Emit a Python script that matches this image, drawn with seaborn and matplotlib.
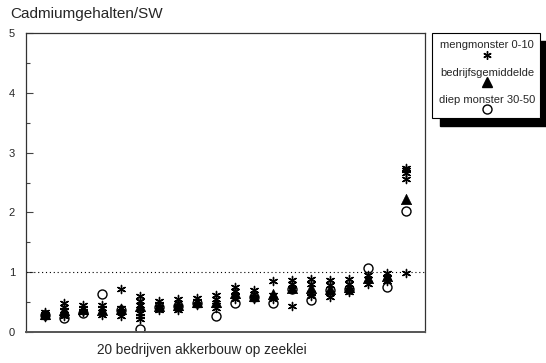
import matplotlib
matplotlib.use("Agg")
import matplotlib.pyplot as plt
import seaborn as sns
import pandas as pd
from matplotlib.patches import Rectangle
from matplotlib.lines import Line2D

# ---- data ----
bedrijf = list(range(1, 21))
mengmonster = [
    [0.25, 0.28, 0.30, 0.33, 0.27],
    [0.49, 0.42, 0.36, 0.30, 0.26],
    [0.45, 0.40, 0.35, 0.33],
    [0.45, 0.40, 0.33, 0.28],
    [0.72, 0.40, 0.33, 0.27],
    [0.60, 0.52, 0.45, 0.32, 0.26, 0.21],
    [0.52, 0.47, 0.40, 0.36],
    [0.55, 0.49, 0.40, 0.36],
    [0.57, 0.52, 0.45],
    [0.62, 0.55, 0.45, 0.40],
    [0.75, 0.68, 0.60, 0.55],
    [0.70, 0.64, 0.55],
    [0.86, 0.62, 0.55],
    [0.87, 0.80, 0.72, 0.44],
    [0.88, 0.80, 0.66, 0.60],
    [0.87, 0.78, 0.65, 0.59],
    [0.89, 0.80, 0.70, 0.67],
    [0.95, 0.88, 0.80],
    [0.99, 0.90, 0.85],
    [2.75, 2.71, 2.66, 2.56, 0.99],
]
gemiddelde = [0.30, 0.37, 0.38, 0.37, 0.38, 0.44, 0.44, 0.45, 0.50, 0.50,
              0.65, 0.60, 0.64, 0.73, 0.73, 0.72, 0.75, 0.90, 0.94, 2.23]
diep = [0.28, 0.23, 0.31, 0.63, 0.36, 0.05, 0.42, 0.43, 0.48, 0.27,
        0.48, 0.58, 0.48, 0.72, 0.53, 0.70, 0.72, 1.07, 0.76, 2.03]
yticks = [0, 1, 2, 3, 4, 5]
legend_labels = ["mengmonster 0-10", "bedrijfsgemiddelde", "diep monster 30-50"]
title = "Cadmiumgehalten/SW"
xlabel = "20 bedrijven akkerbouw op zeeklei"

meng_df = pd.DataFrame(
    [(b, v) for b, vals in zip(bedrijf, mengmonster) for v in vals],
    columns=["bedrijf", "cd"])
gem_df = pd.DataFrame({"bedrijf": bedrijf, "cd": gemiddelde})
diep_df = pd.DataFrame({"bedrijf": bedrijf, "cd": diep})

sns.set_style("white")
plt.rcParams["font.family"] = ["Liberation Sans", "DejaVu Sans"]

W, H = 546, 363
fig = plt.figure(figsize=(W / 100, H / 100), dpi=100)
ax = fig.add_axes([26 / W, 1 - 332 / H, (425 - 26) / W, (332 - 33) / H])

ax.axhline(1, color="black", lw=0.8, ls=(0, (1, 2.5)), zorder=1)

star = (6, 2, 0)
sns.scatterplot(data=diep_df, x="bedrijf", y="cd", marker="o", s=42,
                facecolor="white", edgecolor="black", linewidth=1.0, ax=ax, zorder=2)
sns.scatterplot(data=gem_df, x="bedrijf", y="cd", marker="^", s=55,
                color="black", edgecolor="black", linewidth=0.5, ax=ax, zorder=3)
sns.scatterplot(data=meng_df, x="bedrijf", y="cd", marker=star, s=34,
                color="black", edgecolor="black", linewidth=1.0, ax=ax, zorder=4)

ax.set_xlim(0, 21)
ax.set_ylim(0, 5)
ax.set_xticks([])
ax.set_yticks(yticks)
ax.set_yticks([0.5, 1.5, 2.5, 3.5, 4.5], minor=True)
ax.tick_params(axis="y", which="major", direction="in", length=5, width=0.8,
               labelsize=8, pad=8, left=True, color="#444444")
ax.tick_params(axis="y", which="minor", direction="in", length=3, width=0.8,
               left=True, color="#444444")
ax.set_xlabel("")
ax.set_ylabel("")
for sp in ax.spines.values():
    sp.set_visible(True)
    sp.set_color("#333333")
    sp.set_linewidth(0.9)
ax.spines["bottom"].set_linewidth(1.4)
ax.spines["bottom"].set_color("#555555")

fig.text(10 / W, 1 - 14 / H, title, fontsize=11, ha="left", va="center")
fig.text(202 / W, 1 - 350 / H, xlabel, fontsize=9.8, ha="center", va="center")

# custom legend box with drop shadow
bx0, by0, bx1, by1 = 432, 33, 540, 118
off = 8
fig.patches.append(Rectangle(((bx0 + off) / W, 1 - (by1 + off) / H),
                             (bx1 - bx0) / W, (by1 - by0) / H,
                             transform=fig.transFigure, facecolor="black",
                             edgecolor="black", zorder=1))
fig.patches.append(Rectangle((bx0 / W, 1 - by1 / H),
                             (bx1 - bx0) / W, (by1 - by0) / H,
                             transform=fig.transFigure, facecolor="white",
                             edgecolor="black", linewidth=0.8, zorder=2))
cx = 487
text_y = [45, 73, 100]
mark_y = [55, 82, 109]
marks = [dict(marker=star, markersize=6, markerfacecolor="black", markeredgecolor="black", markeredgewidth=1.0),
         dict(marker="^", markersize=7.5, markerfacecolor="black", markeredgecolor="black"),
         dict(marker="o", markersize=6.5, markerfacecolor="white", markeredgecolor="black", markeredgewidth=1.0)]
for lab, ty, my, mk in zip(legend_labels, text_y, mark_y, marks):
    fig.text(cx / W, 1 - ty / H, lab, fontsize=8, ha="center", va="center", zorder=3)
    fig.add_artist(Line2D([cx / W], [1 - my / H], transform=fig.transFigure,
                          linestyle="none", zorder=3, **mk))

fig.savefig("out.png", dpi=100)
